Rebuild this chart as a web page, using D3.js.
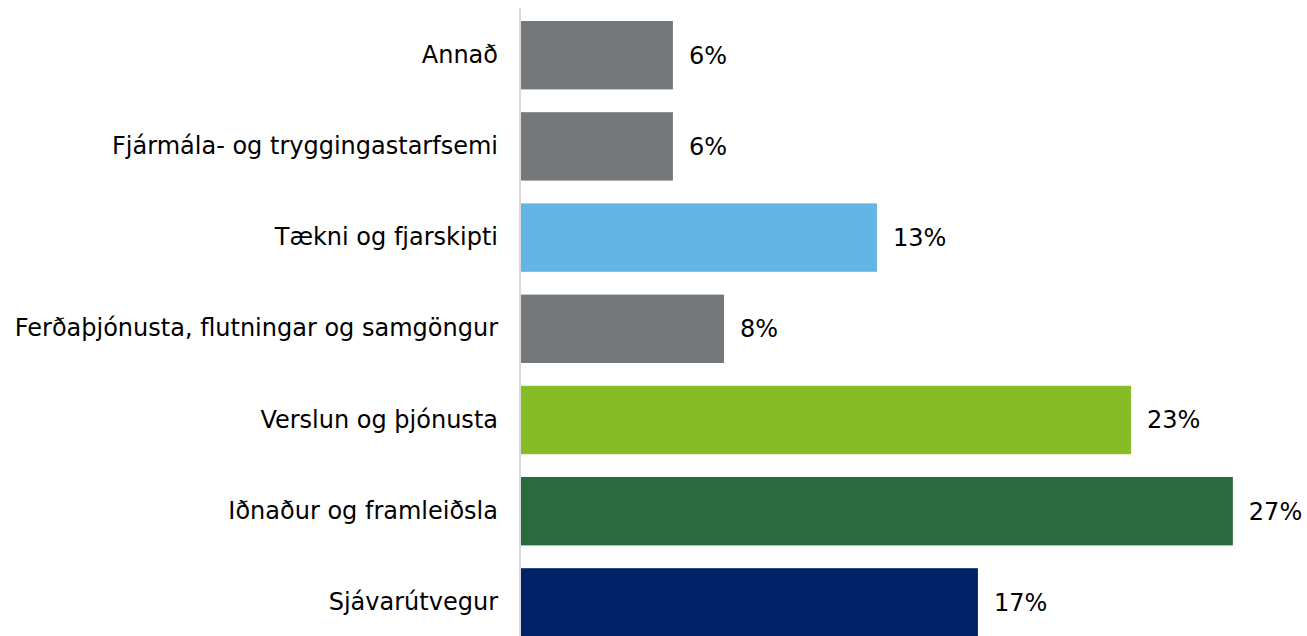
<!DOCTYPE html>
<html><head><meta charset="utf-8">
<script src="https://cdn.jsdelivr.net/npm/d3@7"></script>
<style>body{margin:0;background:#fff}svg{display:block}</style>
</head><body>
<svg id="c" width="1307" height="636"></svg>
<script>
const categories = ["Annað","Fjármála- og tryggingastarfsemi","Tækni og fjarskipti","Ferðaþjónusta, flutningar og samgöngur","Verslun og þjónusta","Iðnaður og framleiðsla","Sjávarútvegur"];
const values = [5.77, 5.77, 13.47, 7.7, 23.06, 26.9, 17.28];
const barColors = ["#75787B","#75787B","#62B5E5","#75787B","#86BC25","#296B3C","#012169"];

const svg = d3.select("#c");
const x0 = 520;
const x = d3.scaleLinear().domain([0, 30]).range([x0, x0 + 795]);
const y = d3.scaleBand().domain(categories).range([9.6, 648]).paddingInner(0.25).paddingOuter(0.125);
const font = "DejaVu Sans, Verdana, sans-serif";

svg.selectAll("rect.bar").data(categories).join("rect")
  .attr("class","bar")
  .attr("x", x(0))
  .attr("y", d => y(d))
  .attr("width", (d,i) => x(values[i]) - x(0))
  .attr("height", y.bandwidth())
  .attr("fill", (d,i) => barColors[i]);

svg.append("line").attr("x1", x0).attr("x2", x0).attr("y1", 8).attr("y2", 636)
  .attr("stroke", "#D9D9D9").attr("stroke-width", 2);

const yAxis = d3.axisLeft(y).tickSize(0).tickPadding(22);
const ga = svg.append("g").attr("transform", `translate(${x0},0)`).call(yAxis);
ga.select(".domain").remove();
ga.selectAll("text").attr("font-family", font).attr("font-size", 24).attr("fill", "#000");

svg.selectAll("text.val").data(categories).join("text")
  .attr("class","val")
  .attr("x", (d,i) => x(values[i]) + 16)
  .attr("y", d => y(d) + y.bandwidth()/2)
  .attr("dy", "0.35em")
  .attr("font-family", font).attr("font-size", 24).attr("fill", "#000")
  .text((d,i) => Math.round(values[i]) + "%");
</script>
</body></html>
